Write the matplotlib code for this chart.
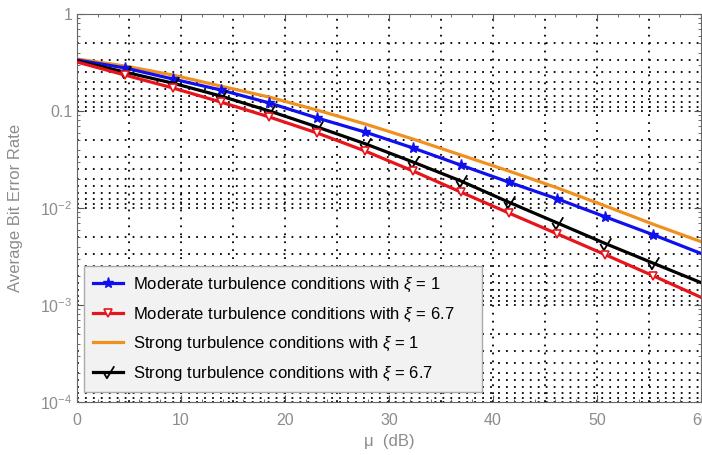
import numpy as np
import matplotlib
matplotlib.use("Agg")
from matplotlib import pyplot as plt
from matplotlib.path import Path
from matplotlib.ticker import FixedLocator, FuncFormatter

plt.rcParams['font.family'] = ['Liberation Sans', 'DejaVu Sans']
plt.rcParams['mathtext.fontset'] = 'custom'
plt.rcParams['mathtext.rm'] = 'Liberation Sans'
plt.rcParams['mathtext.it'] = 'Liberation Sans:italic'

# Datos (mu en dB, BER)
mu = [0, 4.6, 9.2, 13.8, 18.5, 23.1, 27.7, 32.3, 36.9, 41.5, 46.2, 50.8, 55.4, 60]
ber_mod_1 = [0.336, 0.278, 0.214, 0.165, 0.121, 0.0847, 0.0607, 0.0416, 0.0277,
             0.0185, 0.0124, 0.0081, 0.0053, 0.0034]
ber_mod_67 = [0.320, 0.235, 0.173, 0.124, 0.0867, 0.0593, 0.0387, 0.0241, 0.0146,
              0.0089, 0.0054, 0.0033, 0.0020, 0.0012]
ber_str_1 = [0.344, 0.291, 0.235, 0.181, 0.139, 0.102, 0.0735, 0.0514, 0.0352,
             0.0241, 0.0161, 0.0105, 0.0068, 0.0045]
ber_str_67 = [0.328, 0.252, 0.194, 0.143, 0.100, 0.0684, 0.0460, 0.0298, 0.0190,
              0.0115, 0.0070, 0.0043, 0.0027, 0.0017]
labels = [r"Moderate turbulence conditions with $\xi$ = 1",
          r"Moderate turbulence conditions with $\xi$ = 6.7",
          r"Strong turbulence conditions with $\xi$ = 1",
          r"Strong turbulence conditions with $\xi$ = 6.7"]

# marcador tipo "check"
check = Path([(-0.5, 0.05), (-0.15, -0.55), (0.55, 0.6)],
             [Path.MOVETO, Path.LINETO, Path.LINETO])

fig = plt.figure(figsize=(7.02, 4.55), dpi=100)
ax = fig.add_axes([0.1097, 0.1165, 0.8889, 0.8527])

gray = '#8c8c8c'
dots = (0, (1, 3.4))

# Grilla punteada
for xv in range(5, 60, 5):
    ax.axvline(xv, color='black', ls=dots, lw=1.3, zorder=1)
for d in range(-4, 0):
    ax.axhline(10.0 ** d, color='black', ls=dots, lw=1.3, zorder=1)
    for k in range(2, 10):
        ax.axhline(10.0 ** (d + 1) / k, color='black', ls=dots, lw=1.3, zorder=1)

lw = 2.3
ax.plot(mu, ber_str_1, color='#f0901e', lw=lw, label=labels[2], zorder=3)
ax.plot(mu, ber_mod_1, color='#1010ee', lw=lw, marker='*', ms=8,
        markevery=slice(1, 13), label=labels[0], zorder=4)
ax.plot(mu, ber_str_67, color='black', lw=lw, marker=check, ms=9, mfc='none',
        mew=1.3, markevery=slice(1, 13), label=labels[3], zorder=4)
ax.plot(mu, ber_mod_67, color='#e8141c', lw=lw, marker='v', ms=6, mfc='white',
        mew=1.2, markevery=slice(1, 13), label=labels[1], zorder=5)

ax.set_yscale('log')
ax.set_xlim(0, 60)
ax.set_ylim(1e-4, 1)
ax.xaxis.set_major_locator(FixedLocator([0, 10, 20, 30, 40, 50, 60]))
ax.xaxis.set_minor_locator(FixedLocator(np.arange(0, 61, 2)))


def yfmt(v, pos):
    if v >= 0.099:
        return '1' if v > 0.5 else '0.1'
    return r'$10^{%d}$' % int(round(np.log10(v)))


ax.yaxis.set_major_formatter(FuncFormatter(yfmt))
ax.tick_params(which='both', direction='in', top=True, right=True,
               colors='#555555', labelcolor=gray, labelsize=11.5)
ax.tick_params(which='major', length=5)
ax.tick_params(which='minor', length=2.5)
ax.tick_params(axis='x', pad=8)
for s in ax.spines.values():
    s.set_color('#666666')
    s.set_linewidth(0.8)

ax.set_ylabel('Average Bit Error Rate', color=gray, fontsize=12, labelpad=12)
ax.set_xlabel(u'\u03bc  (dB)', color=gray, fontsize=12, labelpad=4)

h, l = ax.get_legend_handles_labels()
order = [l.index(t) for t in labels]
leg = ax.legend([h[i] for i in order], [l[i] for i in order],
                loc='lower left', bbox_to_anchor=(0.011, 0.026, 0.638, 0.5),
                mode='expand', borderaxespad=0,
                fontsize=12, fancybox=False, framealpha=1,
                facecolor='#f2f2f2', edgecolor='#aaaaaa', labelspacing=0.68,
                handlelength=1.8, handletextpad=0.6, borderpad=0.55)
leg.set_zorder(10)

fig.savefig('out.png', dpi=100)
